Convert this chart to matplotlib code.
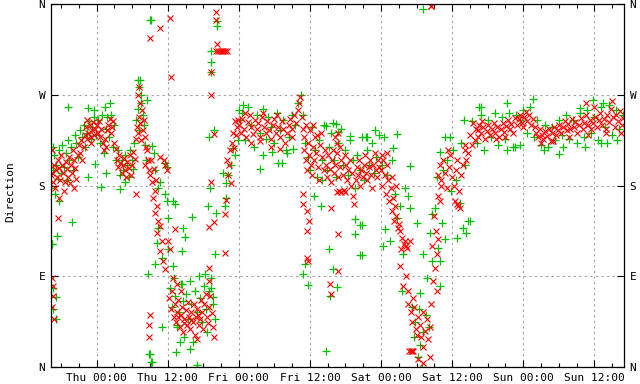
import numpy as np
import matplotlib.pyplot as plt
from matplotlib.ticker import FixedLocator, MultipleLocator

# 横轴：自周四 00:00 起的小时数；纵轴：风向（度）
tick_hours = [0, 12, 24, 36, 48, 60, 72, 84]
tick_labels = ['Thu 00:00', 'Thu 12:00', 'Fri 00:00', 'Fri 12:00',
               'Sat 00:00', 'Sat 12:00', 'Sun 00:00', 'Sun 12:00']
dir_ticks = [0, 90, 180, 270, 360]
dir_labels = ['N', 'E', 'S', 'W', 'N']

# 红色 x 点 (小时, 风向)
red_wed = [(-7.7,190),(-7.6,192),(-7.4,183),(-7.2,200),(-7.0,178),(-6.9,195),(-6.7,188),(-6.5,205),
           (-6.3,197),(-6.1,185),(-6.0,210),(-5.8,200),(-5.6,192),(-5.4,183),(-5.2,203),(-5.0,196),
           (-4.8,188),(-4.6,208),(-4.4,200),(-4.2,192),(-4.0,215),(-3.8,205),(-3.6,197),(-3.4,186),
           (-3.2,210),(-3.0,220),(-2.8,212),(-2.6,225),(-2.4,205),(-2.2,218),(-2.0,230),(-1.8,238),
           (-1.6,226),(-1.4,232),(-1.2,240),(-1.0,228),(-0.8,235),(-0.6,243),(-0.4,230),(-0.2,236),
           (-7.6,88),(-7.4,80),(-7.3,70),(-7.5,60),(-7.2,48),(-6.5,148),(-6.3,168),(-7.5,215),
           (-5.5,175),(-4.5,182),(-3.9,178),(-1.7,245),(-0.9,222)]
red_thu = [(0.0,240),(0.2,232),(0.4,244),(0.6,228),(0.8,236),(1.0,222),(1.2,215),(1.4,226),(1.6,218),
           (1.8,235),(2.0,240),(2.2,246),(2.4,232),(2.6,238),(2.8,244),(3.0,222),(3.2,216),(3.4,205),
           (3.6,198),(3.8,210),(4.0,202),(4.2,192),(4.4,200),(4.6,207),(4.8,195),(5.0,188),(5.2,203),
           (5.4,197),(5.6,210),(5.8,190),(6.0,200),(6.2,213),(6.4,206),(6.7,172),(6.6,226),(6.8,238),
           (7.0,232),(7.2,248),(7.4,242),(7.6,255),(6.9,270),(7.1,278),(7.3,262),(7.8,235),(8.0,245),
           (8.2,228),(8.4,218),(8.6,205),(8.8,195),
           (7.5,225),(8.5,215),(8.2,200),(9.0,190),(9.4,183),(9.9,175),(9.5,168),(10.2,160),(9.9,153),
           (10.4,145),(10.7,140),(10.2,133),(11.0,125),(10.7,115),(11.2,105),(11.5,97),(12.1,125),
           (12.4,117),(11.5,200),(10.7,208),(11.4,205),(11.9,195),(9.2,205),(9.6,196),(10.0,185),
           (9.0,326),(10.7,336),(12.4,346),(12.6,288),(9.0,52),(8.8,42),(8.9,30),(13.2,137),(12.9,88),
           (12.2,68),(12.5,58),(12.8,75),(13.0,50),(13.2,62),(13.4,45),(13.6,55),(13.8,66),(14.0,40),
           (14.2,52),(14.4,60),(14.6,35),(14.8,48),(15.0,57),(15.2,42),(15.4,64),(15.6,50),(15.8,38),
           (16.0,55),(16.2,45),(16.4,62),(16.6,32),(16.8,50),(17.0,58),(17.2,42),(17.4,48),(17.6,66),
           (17.8,55),(18.0,38),(18.2,62),(18.4,72),(18.6,50),(18.8,44),(19.0,60),(19.2,70),(19.4,54),
           (19.6,40),(19.8,30),(13.5,82),(14.3,75),(16.9,28),(18.9,85),(14.7,44),(15.9,47),(17.1,52),
           (13.7,50),
           (19.8,144),(19.0,139),(19.3,183),(21.7,113),(19.0,98),(19.3,270),(19.8,231),(20.2,352),
           (20.2,344),(20.3,320),(19.3,293),(20.2,313),(20.5,313),(20.8,313),(21.1,313),(21.4,313),
           (21.7,313),(22.0,313),
           (21.8,166),(21.7,152),(22.0,205),(22.3,200),(22.5,215),(22.9,222),(23.2,217),(23.5,230),
           (23.7,238),(23.9,245),(22.1,190),(22.6,182),(23.0,232),(23.4,244)]
red_fri = [(24.0,240),(24.3,232),(24.6,246),(24.9,236),(25.2,228),(25.5,243),(25.8,250),(26.1,238),
           (26.4,231),(26.7,245),(27.0,236),(27.3,242),(27.6,228),(27.9,248),(28.2,238),(28.5,232),
           (28.8,244),(29.1,235),(29.4,226),(29.7,240),(30.0,246),(30.3,232),(30.6,238),(30.9,228),
           (31.2,244),(31.5,236),(31.8,222),(32.1,232),(32.4,240),(32.7,246),(33.0,236),(33.3,250),
           (33.6,242),(33.9,255),(34.2,262),(34.4,268),(34.6,248),(34.8,236),(35.0,228),(35.3,240),
           (29.5,218),(31.0,216),(27.5,224),(26.0,222),(25.0,252),(28.0,252),(30.5,250),(32.9,228),
           (35.0,215),(35.3,205),(35.5,195),(35.7,222),(35.9,210),(36.1,200),(36.3,190),(36.5,218),
           (36.7,205),(36.9,228),(37.1,212),(37.3,198),(37.5,185),(37.7,220),(37.9,232),(38.1,208),
           (38.3,195),(38.5,215),(38.7,200),(38.9,188),(39.1,210),(39.3,196),(39.5,183),(39.7,205),
           (39.9,215),(40.1,192),(40.3,200),(40.5,212),(40.7,188),(40.9,175),(41.1,198),(41.3,205),
           (41.5,190),(41.7,176),(41.9,210),(42.1,200),(42.3,185),(42.5,195),(42.7,205),(42.9,180),
           (43.1,192),(43.3,170),(43.5,162),(43.7,185),(43.9,198),(44.1,190),(44.3,205),(44.5,180),
           (44.7,195),(44.9,188),(45.1,200),(45.3,210),(45.5,192),(45.7,185),(45.9,198),(46.1,205),
           (46.3,190),(46.5,178),(46.7,200),(46.9,212),(47.1,195),(47.3,188),(47.5,205),(47.7,198),
           (40.2,228),(40.5,222),(40.8,232),(41.0,218),(36.0,235),(36.5,240),(37.2,230),
           (34.8,162),(35.5,155),(35.8,145),(35.5,135),(35.5,108),(35.7,105),(40.7,132),(39.4,82),
           (39.5,72),(40.7,95),(39.5,158),(34.8,172),(40.6,174),(41.3,174),(42.0,174)]
red_sat = [(48.0,195),(48.2,180),(48.4,205),(48.6,190),(48.8,172),(49.0,200),(49.2,185),(49.4,165),
           (49.6,178),(49.8,155),(50.0,168),(50.2,145),(50.4,160),(50.6,150),(50.8,138),(51.0,142),
           (51.2,135),(51.4,117),(51.6,128),(51.8,122),(52.0,125),(52.2,120),(52.4,118),(52.9,125),
           (51.2,100),(52.2,90),(51.7,80),(52.5,75),(52.6,62),(53.0,55),(53.3,45),(53.6,60),(53.9,38),
           (54.2,50),(54.5,42),(54.8,30),(55.1,55),(55.4,36),(55.7,48),(56.0,28),(56.3,40),(53.4,68),
           (54.0,32),(55.0,20),(56.5,62),(52.8,16),(53.0,16),(53.2,16),(53.4,16),(55.1,4),(56.2,10),
           (56.4,358),(56.5,358),(54.3,8),(48.1,210),(49.0,212),(49.8,188),(50.5,180),
           (56.8,85),(57.1,98),(57.4,112),(57.6,127),(57.9,165),(57.2,135),(58.1,180),(57.0,150),
           (56.6,120),(57.5,75),(57.6,170),(60.8,162),(61.3,158),
           (57.6,190),(57.9,200),(58.2,185),(58.5,205),(58.8,192),(59.1,178),(59.4,198),(59.7,210),
           (60.0,188),(60.3,180),(60.6,195),(60.9,205),(61.2,175),(61.5,190),(61.8,200),(62.1,215),
           (62.4,205),(60.5,165),(61.0,160),(59.3,215),
           (62.1,220),(63.0,230),(63.5,242),(63.9,225),(64.3,235),(62.7,212),(63.3,220)]
red_sun = [(64.0,236),(64.3,228),(64.6,240),(64.9,232),(65.2,238),(65.5,226),(65.8,234),(66.1,240),
           (66.4,230),(66.7,236),(67.0,242),(67.3,232),(67.6,238),(67.9,228),(68.2,236),(68.5,242),
           (68.8,233),(69.1,239),(69.4,245),(69.7,236),(70.0,241),(70.3,232),(70.6,247),(70.9,240),
           (71.2,246),(71.5,250),(71.8,242),(72.1,248),(72.4,253),(72.7,244),(73.0,250),(73.3,240),
           (73.6,246),(73.9,238),(74.2,232),(74.5,228),(74.8,236),(75.1,230),(75.4,226),(75.7,234),
           (76.0,229),(76.3,236),(76.6,224),(76.9,232),(77.2,238),(77.5,230),(77.8,235),(78.1,240),
           (78.4,232),(78.7,238),(79.0,244),(79.3,235),(79.6,241),(79.9,236),(80.2,246),(80.5,238),
           (80.8,243),(81.1,232),(81.4,240),(81.7,247),(82.0,236),(82.3,242),(82.6,250),(82.9,240),
           (83.2,245),(83.5,236),(83.8,242),(84.1,248),(84.4,238),(84.7,245),(85.0,252),(85.3,240),
           (85.6,246),(85.9,236),(86.2,250),(86.5,243),(86.8,256),(87.1,248),(87.4,238),(87.7,250),
           (88.0,244),(88.3,254),(88.6,240),(88.9,247),(82.6,262),(86.9,264),(84.0,258),
           (65.0,244),(67.4,226),(69.0,228),(72.0,238),(75.0,222),(77.0,224),(79.8,228),(83.0,230),
           (86.0,232),(88.5,232)]

# 绿色 + 点 (小时, 风向)
green_wed = [(-7.6,122),(-7.7,178),(-7.4,195),(-7.2,210),(-7.0,172),(-6.8,200),(-6.5,186),(-6.3,215),
             (-6.0,192),(-5.8,220),(-5.5,198),(-5.2,212),(-4.9,225),(-4.6,205),(-4.3,218),(-4.0,195),
             (-3.7,230),(-3.4,222),(-3.1,208),(-2.8,235),(-2.5,228),(-2.2,240),(-1.9,218),(-1.6,232),
             (-1.3,244),(-1.0,226),(-0.7,238),(-0.4,248),(-0.1,230),(-4.8,258),(-1.4,257),(-0.4,255),
             (-7.3,218),(-5.0,185),(-1.4,188),(-4.1,144),(-6.7,130),(-7.5,122),(-6.3,165),(-7.3,78),
             (-6.8,69),(-7.3,58),(-6.8,48),(-0.3,201)]
green_thu = [(0.8,179),(1.6,192),(4.0,177),(4.8,183),(6.2,196),(9.4,219),(9.7,212),(8.7,92),(9.0,13),
             (9.4,5),(9.2,344),
             (0.3,245),(0.6,222),(0.9,250),(1.2,212),(1.5,236),(1.8,248),(2.1,228),(2.4,250),(2.7,218),
             (3.0,240),(3.3,205),(3.6,215),(3.9,190),(4.2,205),(4.5,195),(4.8,210),(5.1,200),(5.4,188),
             (5.7,215),(6.0,205),(6.3,222),(6.6,245),(6.9,256),(7.2,235),(7.5,262),(7.8,250),(8.1,220),
             (8.4,205),(6.9,285),(7.2,278),(1.4,258),(2.2,262),(7.5,270),(8.0,240),
             (9.0,344),(7.3,285),(8.5,265),(9.9,195),(10.7,183),(11.6,202),(11.9,198),(10.4,178),
             (11.6,172),(11.9,165),(12.9,165),(13.2,162),(12.1,148),(10.4,138),(10.2,123),(11.0,108),
             (9.9,102),(12.1,117),(12.9,100),(14.6,138),(14.9,129),(14.4,115),(16.1,149),(8.9,13),
             (9.2,5),(11.0,40),
             (12.3,78),(12.7,60),(13.0,88),(13.3,70),(13.6,40),(13.9,55),(14.2,82),(14.5,65),(14.8,30),
             (15.1,72),(15.4,48),(15.7,85),(16.0,62),(16.3,25),(16.6,75),(16.9,55),(17.2,90),(17.5,68),
             (17.8,45),(18.1,80),(18.4,58),(18.7,35),(19.0,75),(19.3,88),(19.6,62),(19.9,48),(14.4,82),
             (13.6,42),(14.1,25),(13.4,15),(15.8,18),(17.0,2),(18.3,92),(20.0,112),(19.3,78),(19.6,69),
             (19.3,313),(19.3,302),(19.3,293),(20.3,343),(20.3,338),(19.8,235),(19.0,228),(19.1,178),
             (18.8,160),(20.2,153),(21.3,192),(21.8,168),(21.7,160),(21.8,182),
             (22.2,190),(22.7,200),(23.0,217),(23.4,210),(23.9,225),(24.0,255),(24.2,245),(24.7,260)]
green_fri = [(24.5,252),(25.0,225),(25.5,258),(26.0,240),(26.5,218),(27.0,250),(27.5,232),(28.0,256),
             (28.5,226),(29.0,248),(29.5,238),(30.0,222),(30.5,252),(31.0,235),(31.5,245),(32.0,215),
             (32.5,228),(33.0,250),(33.5,240),(34.0,262),(34.5,270),(34.8,250),(28.1,210),(27.6,196),
             (30.6,202),(31.3,202),(32.1,212),(33.1,216),(29.6,213),
             (35.2,222),(35.6,208),(36.0,195),(36.4,238),(36.8,215),(37.2,188),(37.6,225),(38.0,205),
             (38.4,240),(38.8,195),(39.2,218),(39.6,232),(40.0,205),(40.4,188),(40.8,222),(41.2,236),
             (41.6,200),(42.0,215),(42.4,190),(42.8,225),(43.2,205),(43.6,178),(44.0,210),(44.4,195),
             (44.8,228),(45.2,185),(45.6,215),(46.0,200),(46.4,222),(46.8,192),(47.2,208),(47.6,230),
             (39.9,242),(40.4,241),(40.7,233),(42.7,229),(45.6,228),(38.7,239),(36.7,170),(37.9,160),
             (39.2,117),(39.9,97),(40.5,79),(39.4,70),(38.7,16),(34.8,92),(35.7,81),(35.2,102),
             (43.6,147),(44.4,141),(43.6,132),(44.4,111),(38.0,185),(44.8,141),(44.8,111)]
green_sat = [(47.0,235),(45.4,228),(48.5,228),(50.7,231),(50.0,217),(52.9,199),(52.0,178),(52.5,170),
             (52.9,158),(54.0,143),(49.5,125),(48.3,120),(48.6,137),(50.7,148),(51.7,112),(51.5,75),
             (55.1,112),(55.7,88),(54.5,73),(54.5,22),(54.9,0),(54.2,10),(55.1,355),
             (48.2,200),(49.0,190),(49.8,205),(50.4,172),(51.2,160),(53.2,60),(53.8,45),(54.4,58),
             (55.0,35),(55.6,52),(56.1,40),(53.5,30),
             (56.6,152),(58.3,143),(56.2,133),(57.6,118),(57.9,105),(56.6,105),(57.9,80),(57.1,158),
             (58.8,127),(57.4,188),(57.9,213),(58.8,228),(59.6,228),(60.8,128),(61.8,138),(62.6,145),
             (62.3,133),(61.3,163),(62.0,245),(64.5,258),(63.3,244),(63.0,145),
             (58.5,195),(59.2,205),(60.1,215),(60.7,185),(61.5,222),(62.2,200),(59.8,175)]
green_sun = [(64.2,222),(64.8,250),(65.4,215),(66.0,245),(66.6,228),(67.2,252),(67.8,220),(68.4,248),
             (69.0,226),(69.6,252),(70.2,218),(70.8,250),(71.4,245),(72.0,255),(72.6,232),(73.2,258),
             (73.8,228),(74.4,245),(75.0,220),(75.6,240),(76.2,218),(76.8,238),(77.4,225),(78.0,245),
             (78.6,230),(79.2,250),(79.8,226),(80.4,245),(81.0,222),(81.6,252),(82.2,228),(82.8,255),
             (83.4,232),(84.0,248),(84.6,225),(85.2,258),(85.8,238),(86.4,260),(87.0,230),(87.6,255),
             (88.2,236),(88.8,250),(64.8,258),(69.2,262),(73.6,266),(69.2,215),(70.6,218),(71.4,220),
             (78.0,211),(75.5,215),(78.7,218),(82.4,218),(85.2,222),(86.1,222),(87.8,225),(81.5,257),
             (83.7,265),(85.4,262)]


def split(*blocks):
    pts = [p for b in blocks for p in b]
    return np.array([p[0] for p in pts]), np.array([p[1] for p in pts])


red_h, red_d = split(red_wed, red_thu, red_fri, red_sat, red_sun)
green_h, green_d = split(green_wed, green_thu, green_fri, green_sat, green_sun)

mono = 'DejaVu Sans Mono'
fig = plt.figure(figsize=(6.4, 3.84), dpi=100)
ax = fig.add_axes([51 / 640, 17 / 384, 573 / 640, 363 / 384])

ax.plot(green_h, green_d, '+', color='#00c000', ms=6, mew=0.9, ls='none')
ax.plot(red_h, red_d, 'x', color='#ff0000', ms=5, mew=0.8, ls='none')

ax.set_xlim(-7.7, 89.0)
ax.set_ylim(0, 360)
ax.xaxis.set_major_locator(FixedLocator(tick_hours))
ax.set_xticklabels(tick_labels, fontfamily=mono, fontsize=8)
ax.xaxis.set_minor_locator(MultipleLocator(3))
ax.set_yticks(dir_ticks)
ax.set_yticklabels(dir_labels, fontfamily=mono, fontsize=8)
ax.tick_params(which='both', direction='in', top=True, right=True, labelright=True, width=0.8)
ax.tick_params(which='major', length=5, pad=4)
ax.tick_params(which='minor', length=3)
ax.grid(True, which='major', color='#a0a0a0', linestyle=(0, (2, 3)), linewidth=0.8)
for s in ax.spines.values():
    s.set_linewidth(0.9)

fig.text(10 / 640, 0.5, 'Direction', rotation=90, va='center', ha='center',
         fontfamily=mono, fontsize=8)

fig.savefig('out.png', dpi=100)
